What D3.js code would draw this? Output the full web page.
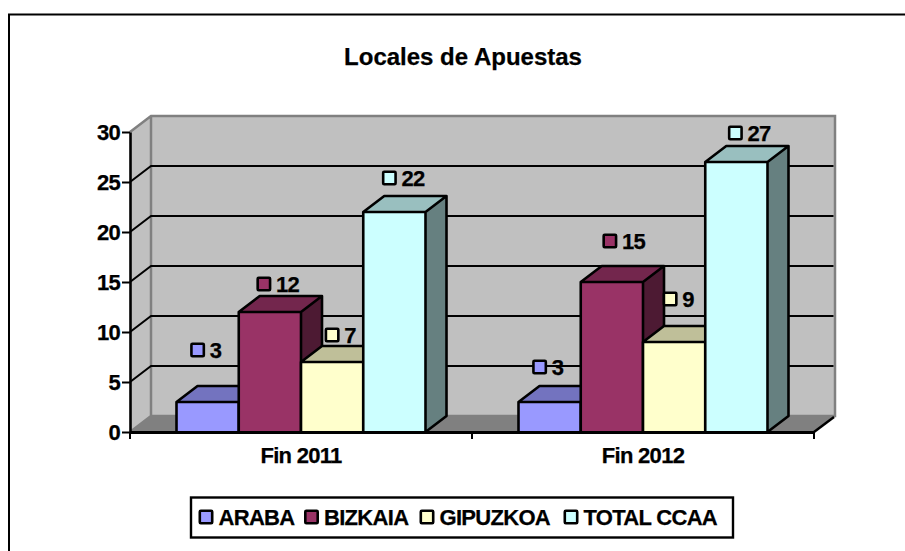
<!DOCTYPE html>
<html><head><meta charset="utf-8">
<script src="https://cdn.jsdelivr.net/npm/d3@7"></script>
<style>html,body{margin:0;padding:0;background:#fff}svg{display:block}text{font-family:"Liberation Sans",Arial,sans-serif;font-weight:bold;fill:#000;letter-spacing:-0.7px;stroke:#000;stroke-width:.25px}text.title{letter-spacing:0}</style>
</head><body><svg id="c" width="905" height="551"></svg>
<script>
const title = "Locales de Apuestas";
const categories = ["Fin 2011", "Fin 2012"];
const seriesNames = ["ARABA", "BIZKAIA", "GIPUZKOA", "TOTAL CCAA"];
const araba = [3, 3];
const bizkaia = [12, 15];
const gipuzkoa = [7, 9];
const totalCcaa = [22, 27];
const yTicks = [0, 5, 10, 15, 20, 25, 30];
const seriesValues = [araba, bizkaia, gipuzkoa, totalCcaa];
const fills = ["#9999ff", "#993366", "#ffffcc", "#ccffff"];
const tops = ["#7373bf", "#73264d", "#bfbf99", "#99bfbf"];
const sides = ["#4d4d80", "#4d1a33", "#808066", "#668080"];
// hand-placed data-label offsets from each bar's front-top centre [category][series]
const labelDx = [[-10, -6, 0, -5], [-10, -2, -4, -1]];
const labelDy = [[-52, -28, -27, -34], [-35, -41, -43, -29]];

const svg = d3.select("#c");
const FONT = 22;
const X0 = 130, X1 = 814, Y0 = 432, Y30 = 132, DX = 21, DY = -16;
const y = d3.scaleLinear().domain([0, 30]).range([Y0, Y30]);
const xCat = d3.scaleBand().domain(categories).range([X0, X1]);
const xSer = d3.scaleBand().domain(seriesNames.map((_, i) => i)).range([0, 249]);
const pts = a => a.map(p => p.join(",")).join(" ");
const barX = (c, s) => xCat(c) + (xCat.bandwidth() - 249) / 2 + xSer(s);

// frame: left edge and top edge only, running off the picture
svg.append("path").attr("d", "M9,551V14.5H905").attr("fill", "none").attr("stroke", "#000").attr("stroke-width", 2);

// walls
const wallBack = X0 + DX, wallRight = X1 + DX, wallTop = Y30 + DY, wallBot = Y0 + DY;
svg.append("polygon").attr("points", pts([[wallBack, wallTop], [wallRight, wallTop], [wallRight, wallBot], [wallBack, wallBot]])).attr("fill", "#c0c0c0");
svg.append("polygon").attr("points", pts([[X0, Y30], [wallBack, wallTop], [wallBack, wallBot], [X0, Y0]])).attr("fill", "#c0c0c0");
svg.append("polygon").attr("points", pts([[X0, Y0], [wallBack, wallBot], [wallRight, wallBot], [X1, Y0]])).attr("fill", "#808080");
svg.append("path").attr("d", `M${X0},${Y30}L${wallBack},${wallTop}H${wallRight}V${wallBot}H${wallBack}V${wallTop}M${wallBack},${wallBot}L${X0},${Y0}`)
  .attr("fill", "none").attr("stroke", "#808080").attr("stroke-width", 2.5);

// gridlines
svg.append("g").selectAll("path").data(yTicks.filter(t => t > 0 && t < 30)).join("path")
  .attr("d", t => `M${X0},${y(t)}L${wallBack},${y(t) + DY}H${wallRight - 1.5}`)
  .attr("fill", "none").attr("stroke", "#000").attr("stroke-width", 2);

// floor right edge
svg.append("line").attr("x1", X1).attr("y1", Y0).attr("x2", wallRight - 1).attr("y2", wallBot + 1).attr("stroke", "#000").attr("stroke-width", 2.5);

// bars
categories.forEach((c, ci) => {
  const g = svg.append("g");
  seriesNames.forEach((_, si) => {
    const v = seriesValues[si][ci];
    const x0 = barX(c, si), x1 = x0 + xSer.bandwidth(), t = y(v), b = y(0);
    g.append("polygon").attr("points", pts([[x1, t], [x1 + DX, t + DY], [x1 + DX, b + DY], [x1, b]])).attr("fill", sides[si]);
    g.append("polygon").attr("points", pts([[x0, t], [x0 + DX, t + DY], [x1 + DX, t + DY], [x1, t]])).attr("fill", tops[si]);
    g.append("rect").attr("x", x0).attr("y", t).attr("width", x1 - x0).attr("height", b - t).attr("fill", fills[si]);
    g.append("path").attr("d", `M${x0},${b}V${t}H${x1}V${b}M${x0},${t}L${x0 + DX},${t + DY}H${x1 + DX}L${x1},${t}M${x1 + DX},${t + DY}V${b + DY}L${x1},${b}`)
      .attr("fill", "none").attr("stroke", "#000").attr("stroke-width", 2.6).attr("stroke-linejoin", "round");
  });
});

// axes
const yAxis = d3.axisLeft(y).tickValues(yTicks).tickSize(8).tickSizeOuter(0).tickPadding(2);
const yG = svg.append("g").attr("transform", `translate(${X0},0)`).call(yAxis);
yG.select(".domain").attr("stroke", "#000").attr("stroke-width", 2.6);
yG.selectAll(".tick line").attr("stroke", "#000").attr("stroke-width", 2);
yG.selectAll(".tick text").attr("font-size", FONT).attr("font-family", '"Liberation Sans",Arial,sans-serif');

const xAxis = d3.axisBottom(xCat).tickSize(0).tickPadding(15.5);
const xG = svg.append("g").attr("transform", `translate(0,${Y0})`).call(xAxis);
xG.select(".domain").attr("stroke", "#000").attr("stroke-width", 3);
xG.selectAll(".tick text").attr("font-size", FONT).attr("font-family", '"Liberation Sans",Arial,sans-serif');
xG.selectAll("line.sep").data([X0, X0 + xCat.step(), X1]).join("line").attr("class", "sep")
  .attr("x1", d => d).attr("x2", d => d).attr("y1", 0).attr("y2", 7).attr("stroke", "#000").attr("stroke-width", 2);

// data labels
categories.forEach((c, ci) => seriesNames.forEach((_, si) => {
  const v = seriesValues[si][ci];
  const cx = barX(c, si) + xSer.bandwidth() / 2 + labelDx[ci][si];
  const cy = y(v) + labelDy[ci][si];
  svg.append("rect").attr("x", cx - 6.2).attr("y", cy - 6.2).attr("width", 12.4).attr("height", 12.4).attr("rx", 1)
    .attr("fill", fills[si]).attr("stroke", "#000").attr("stroke-width", 2.6);
  svg.append("text").attr("x", cx + 12).attr("y", cy + 7.6).attr("font-size", FONT).text(v);
}));

// title
svg.append("text").attr("class", "title").attr("x", 463).attr("y", 65).attr("text-anchor", "middle").attr("font-size", 24).text(title);

// legend
svg.append("rect").attr("x", 191).attr("y", 497.5).attr("width", 542).attr("height", 40).attr("fill", "#fff").attr("stroke", "#000").attr("stroke-width", 2.4);
const legendSwatch = [206, 311.5, 427, 571];
seriesNames.forEach((n, i) => {
  svg.append("rect").attr("x", legendSwatch[i] - 6.2).attr("y", 510.8).attr("width", 12.4).attr("height", 12.4).attr("rx", 1)
    .attr("fill", fills[i]).attr("stroke", "#000").attr("stroke-width", 2.6);
  svg.append("text").attr("x", legendSwatch[i] + 12.5).attr("y", 525).attr("font-size", FONT).text(n);
});
</script></body></html>
